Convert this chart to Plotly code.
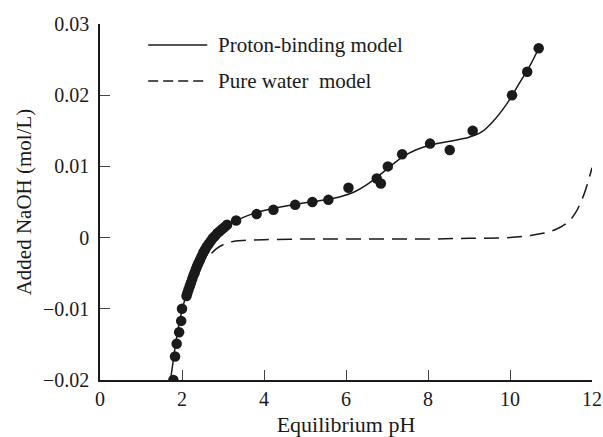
import plotly.graph_objects as go

# Measured titration data (Equilibrium pH, Added NaOH mol/L)
data_ph = [1.79, 1.83, 1.87, 1.93, 1.98, 2.00, 2.11,
           2.13, 2.16, 2.19, 2.22, 2.25, 2.28, 2.31, 2.34, 2.37, 2.40, 2.44, 2.48,
           2.52, 2.56, 2.60, 2.65, 2.70, 2.75, 2.80, 2.86, 2.92, 2.98, 3.04, 3.10,
           3.32, 3.82, 4.23, 4.76, 5.18, 5.57, 6.06, 6.75, 6.85, 7.02, 7.37,
           8.05, 8.53, 9.09, 10.05, 10.42, 10.70]
data_naoh = [-0.0200, -0.0167, -0.0149, -0.0133, -0.0117, -0.0100, -0.0082,
             -0.0078, -0.0073, -0.0068, -0.0063, -0.0058, -0.0053, -0.0049, -0.0044, -0.0040, -0.0036, -0.0031, -0.0026,
             -0.0021, -0.0017, -0.0013, -0.0009, -0.0005, -0.0001, 0.0002, 0.0006, 0.0009, 0.0012, 0.0015, 0.0018,
             0.0024, 0.0033, 0.0039, 0.0046, 0.0050, 0.0053, 0.0070, 0.0083, 0.0076, 0.0100, 0.0117,
             0.0132, 0.0123, 0.0150, 0.0200, 0.0233, 0.0266]

# Proton-binding model curve
pb_ph = [1.72, 1.80, 1.87, 1.95, 2.03, 2.12, 2.25, 2.40, 2.55, 2.70, 2.85, 3.0, 3.2, 3.4,
         3.7, 4.0, 4.5, 5.0, 5.5, 5.9, 6.2, 6.5, 6.8, 7.1, 7.4, 7.7, 8.0, 8.5, 9.0, 9.3,
         9.6, 9.9, 10.2, 10.5, 10.7]
pb_naoh = [-0.0200, -0.0167, -0.0140, -0.0115, -0.0095, -0.0078, -0.0058, -0.0036, -0.0018,
           -0.0005, 0.0005, 0.0013, 0.0020, 0.0026, 0.0033, 0.0038, 0.0044, 0.0049, 0.0053,
           0.0058, 0.0064, 0.0074, 0.0087, 0.0101, 0.0114, 0.0123, 0.0129, 0.0135, 0.0141,
           0.0148, 0.0164, 0.0186, 0.0214, 0.0243, 0.0266]

# Pure water model curve
pw_ph = [2.72, 2.85, 3.0, 3.2, 3.5, 4.0, 5.0, 6.0, 7.0, 8.0, 9.0, 10.0, 10.5, 10.8,
         11.1, 11.4, 11.6, 11.8, 12.0]
pw_naoh = [-0.0022, -0.0015, -0.0010, -0.0006, -0.0004, -0.0003, -0.0002, -0.0002, -0.0002,
           -0.0002, -0.0001, 0.0000, 0.0003, 0.0006, 0.0011, 0.0021, 0.0035, 0.0060, 0.0098]

x_ticks = [0, 2, 4, 6, 8, 10, 12]
y_ticks = [0.03, 0.02, 0.01, 0, -0.01, -0.02]
y_tick_labels = ["0.03", "0.02", "0.01", "0", "\u22120.01", "\u22120.02"]

legend_labels = ["Proton-binding model", "Pure water  model"]

FONT = "Liberation Serif, Times New Roman, serif"

fig = go.Figure()
fig.add_trace(go.Scatter(x=pb_ph, y=pb_naoh, mode="lines", line=dict(color="#1a1a1a", width=1.5, shape="spline"),
                         showlegend=False))
fig.add_trace(go.Scatter(x=pw_ph, y=pw_naoh, mode="lines",
                         line=dict(color="#1a1a1a", width=1.5, shape="spline", dash="15px,8px"), showlegend=False))
fig.add_trace(go.Scatter(x=data_ph, y=data_naoh, mode="markers",
                         marker=dict(color="#1a1a1a", size=10.5), showlegend=False))

# Custom legend (line samples + labels) in paper coordinates
leg_y = [0.941, 0.840]
for i, (lab, dash) in enumerate(zip(legend_labels, ["solid", "10px,5px"])):
    fig.add_shape(type="line", xref="paper", yref="paper", x0=0.098, x1=0.218, y0=leg_y[i], y1=leg_y[i],
                  line=dict(color="#1a1a1a", width=1.5, dash=dash))
    fig.add_annotation(xref="paper", yref="paper", x=0.236, y=leg_y[i], text=lab, showarrow=False,
                       xanchor="left", yanchor="middle", font=dict(family=FONT, size=21, color="#1a1a1a"))

fig.update_layout(
    width=603, height=437,
    margin=dict(l=100, r=11, t=24, b=57),
    paper_bgcolor="white", plot_bgcolor="white",
    font=dict(family=FONT, size=20, color="#1a1a1a"),
    showlegend=False,
)
fig.update_xaxes(range=[0, 12], tickvals=x_ticks, ticks="inside", ticklen=10, tickwidth=1.2,
                 showline=True, linecolor="#1a1a1a", linewidth=1.5, showgrid=False, zeroline=False,
                 tickfont=dict(size=20), automargin=False,
                 title=dict(text="Equilibrium pH", font=dict(size=22), standoff=15))
fig.update_yaxes(range=[-0.02, 0.03], tickvals=y_ticks, ticktext=y_tick_labels, ticks="inside", ticklen=10,
                 tickwidth=1.2, showline=True, linecolor="#1a1a1a", linewidth=1.5, showgrid=False,
                 zeroline=False, tickfont=dict(size=20), ticklabelstandoff=5, automargin=False,
                 title=dict(text="Added NaOH (mol/L)", font=dict(size=21), standoff=6))

fig.write_html("out.html")
